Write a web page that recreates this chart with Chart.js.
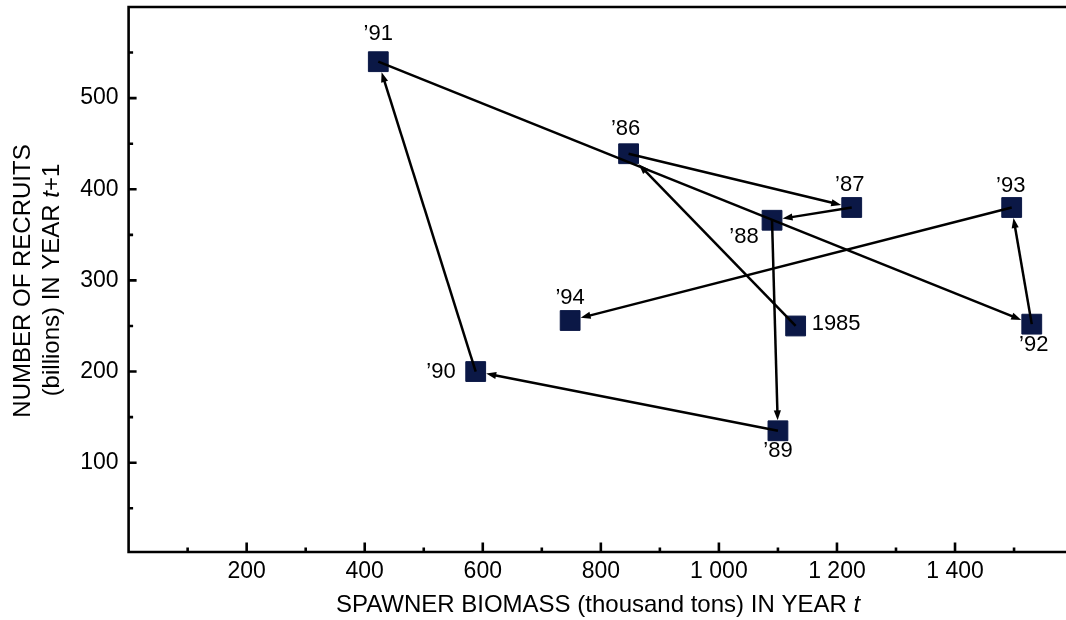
<!DOCTYPE html>
<html><head><meta charset="utf-8">
<script src="https://cdn.jsdelivr.net/npm/chart.js@4.4.1/dist/chart.umd.min.js"></script>
<style>html,body{margin:0;padding:0;background:#fff;} #wrap{width:1066px;height:620px;}</style>
</head><body>
<div id="wrap"><canvas id="c" width="1066" height="620"></canvas></div>
<script>
// ---- data ----
const years = ['1985', '\u201986', '\u201987', '\u201988', '\u201989', '\u201990', '\u201991', '\u201992', '\u201993', '\u201994'];
const spawnerBiomass = [1130, 847, 1225, 1090, 1100, 588, 423, 1530, 1496, 748];
const recruits = [250, 439, 380, 366, 135, 200, 540, 252, 380, 256];
const xTickValues = [100, 200, 300, 400, 500, 600, 700, 800, 900, 1000, 1100, 1200, 1300, 1400, 1500];
const xTickLabels = [200, 400, 600, 800, 1000, 1200, 1400];
const yTickValues = [50, 100, 150, 200, 250, 300, 350, 400, 450, 500, 550];
const yTickLabels = [100, 200, 300, 400, 500];

// ---- styling ----
const FONT = '"Liberation Sans", Arial, Helvetica, sans-serif';
const SQUARE = '#0b1846';
// label placement per point: [dx, dy, align]
const labelPlacement = [[16, -2, 'left'], [-3, -25, 'center'], [-2, -23, 'center'], [-28, 17, 'center'], [0, 20, 'center'],
  [-20, 0, 'right'], [0, -28, 'center'], [2, 21, 'center'], [-1, -22, 'center'], [0, -23, 'center']];

function fmt(v) { return v >= 1000 ? Math.floor(v / 1000) + ' ' + String(v % 1000).padStart(3, '0') : String(v); }

function drawParts(ctx, parts, cx, cy) {
  let total = 0;
  parts.forEach(p => { ctx.font = p[1]; total += ctx.measureText(p[0]).width; });
  let xx = cx - total / 2;
  ctx.textAlign = 'left';
  parts.forEach(p => { ctx.font = p[1]; ctx.fillText(p[0], xx, cy); xx += ctx.measureText(p[0]).width; });
}

const decor = {
  id: 'decor',
  afterDatasetsDraw(chart) {
    const { ctx, chartArea: a, scales: { x, y } } = chart;
    ctx.save();
    ctx.strokeStyle = '#000';
    ctx.fillStyle = '#000';
    ctx.lineWidth = 2.6;
    ctx.lineCap = 'butt';
    // frame: top line, left axis, bottom axis
    ctx.beginPath();
    ctx.moveTo(a.right, a.top); ctx.lineTo(a.left, a.top);
    ctx.lineTo(a.left, a.bottom); ctx.lineTo(a.right, a.bottom);
    ctx.stroke();
    // inward ticks
    ctx.lineWidth = 2.6;
    ctx.beginPath();
    xTickValues.forEach(v => {
      const px = x.getPixelForValue(v);
      const len = xTickLabels.includes(v) ? 9.5 : 4.5;
      ctx.moveTo(px, a.bottom); ctx.lineTo(px, a.bottom - len);
    });
    yTickValues.forEach(v => {
      const py = y.getPixelForValue(v);
      const len = yTickLabels.includes(v) ? 8 : 4.5;
      ctx.moveTo(a.left, py); ctx.lineTo(a.left + len, py);
    });
    ctx.stroke();
    // arrows between consecutive years
    const h = 10.5, headLen = 10, headW = 3.6;
    ctx.lineWidth = 2.5;
    for (let i = 1; i < spawnerBiomass.length; i++) {
      const sx = x.getPixelForValue(spawnerBiomass[i - 1]), sy = y.getPixelForValue(recruits[i - 1]);
      const tx = x.getPixelForValue(spawnerBiomass[i]), ty = y.getPixelForValue(recruits[i]);
      const dx = sx - tx, dy = sy - ty;
      const m = Math.max(Math.abs(dx), Math.abs(dy));
      const ex = tx + dx * h / m, ey = ty + dy * h / m;
      const L = Math.hypot(ex - sx, ey - sy);
      const ux = (ex - sx) / L, uy = (ey - sy) / L;
      const bx = ex - ux * headLen, by = ey - uy * headLen;
      ctx.beginPath();
      ctx.moveTo(sx, sy); ctx.lineTo(ex - ux * 6, ey - uy * 6);
      ctx.stroke();
      ctx.beginPath();
      ctx.moveTo(ex, ey);
      ctx.lineTo(bx - uy * headW, by + ux * headW);
      ctx.lineTo(bx + uy * headW, by - ux * headW);
      ctx.closePath();
      ctx.fill();
    }
    // point labels
    ctx.font = '22px ' + FONT;
    ctx.textBaseline = 'middle';
    years.forEach((lab, i) => {
      const px = x.getPixelForValue(spawnerBiomass[i]), py = y.getPixelForValue(recruits[i]);
      const [ox, oy, al] = labelPlacement[i];
      ctx.textAlign = al;
      ctx.fillText(lab, px + ox, py + oy);
    });
    // axis titles
    const n = '24px ' + FONT, it = 'italic 24px ' + FONT;
    ctx.textBaseline = 'middle';
    drawParts(ctx, [['SPAWNER BIOMASS (thousand tons) IN YEAR ', n], ['t', it]], 598, 605);
    ctx.save();
    ctx.translate(23, 281);
    ctx.rotate(-Math.PI / 2);
    drawParts(ctx, [['NUMBER OF RECRUITS', n]], 0, 0);
    ctx.restore();
    ctx.save();
    ctx.translate(52, 280);
    ctx.rotate(-Math.PI / 2);
    drawParts(ctx, [['(billions) IN YEAR ', n], ['t', it], ['+1', n]], 0, 0);
    ctx.restore();
    ctx.restore();
  }
};

new Chart(document.getElementById('c'), {
  type: 'scatter',
  data: {
    datasets: [{
      data: spawnerBiomass.map((v, i) => ({ x: v, y: recruits[i] })),
      pointStyle: 'rect', pointRadius: 14, pointHoverRadius: 14,
      backgroundColor: SQUARE, borderColor: SQUARE, borderWidth: 1,
      clip: false
    }]
  },
  options: {
    responsive: false, animation: false, devicePixelRatio: 1, events: [],
    layout: { autoPadding: false, padding: { top: 7, left: 0, right: 0, bottom: 0 } },
    plugins: { legend: { display: false }, tooltip: { enabled: false } },
    scales: {
      x: {
        type: 'linear', position: 'bottom', min: 0, max: 1588,
        afterBuildTicks: s => { s.ticks = xTickValues.map(v => ({ value: v })); },
        afterFit: s => { s.height = 68; s.paddingLeft = 0; s.paddingRight = 0; },
        grid: { display: false, drawTicks: false }, border: { display: false },
        ticks: { autoSkip: false, maxRotation: 0, minRotation: 0, padding: 6, color: '#000',
          font: { family: FONT, size: 23 }, callback: v => xTickLabels.includes(v) ? fmt(v) : '' }
      },
      y: {
        type: 'linear', position: 'left', min: 2, max: 600,
        afterBuildTicks: s => { s.ticks = yTickValues.map(v => ({ value: v })); },
        afterFit: s => { s.width = 128.6; s.paddingTop = 0; s.paddingBottom = 0; },
        grid: { display: false, drawTicks: false }, border: { display: false },
        ticks: { autoSkip: false, padding: 10, color: '#000',
          font: { family: FONT, size: 23 }, callback: v => yTickLabels.includes(v) ? String(v) : '' }
      }
    }
  },
  plugins: [decor]
});
</script>
</body></html>
